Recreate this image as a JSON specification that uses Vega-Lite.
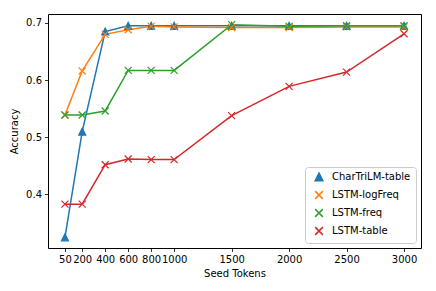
{
  "$schema": "https://vega.github.io/schema/vega-lite/v6.json",
  "autosize": {"type": "none"},
  "width": 373,
  "height": 234,
  "padding": {"left": 48, "top": 14, "right": 15, "bottom": 43},
  "background": "white",
  "config": {
    "font": "DejaVu Sans",
    "view": {"stroke": "#000000", "strokeWidth": 1},
    "axis": {
      "domain": false,
      "grid": false,
      "tickColor": "#000000",
      "tickSize": 3.5,
      "tickWidth": 0.8,
      "labelPadding": 3,
      "labelColor": "#000000",
      "labelFont": "DejaVu Sans",
      "labelFontSize": 10,
      "titleFont": "DejaVu Sans",
      "titleFontSize": 10,
      "titleFontWeight": "normal",
      "titleColor": "#000000"
    },
    "legend": {
      "labelFont": "DejaVu Sans",
      "labelFontSize": 10,
      "labelColor": "#000000"
    }
  },
  "data": {
    "values": [
      {"x": 50, "y": 0.325, "s": "CharTriLM-table"},
      {"x": 200, "y": 0.51, "s": "CharTriLM-table"},
      {"x": 400, "y": 0.685, "s": "CharTriLM-table"},
      {"x": 600, "y": 0.695, "s": "CharTriLM-table"},
      {"x": 800, "y": 0.695, "s": "CharTriLM-table"},
      {"x": 1000, "y": 0.695, "s": "CharTriLM-table"},
      {"x": 1500, "y": 0.695, "s": "CharTriLM-table"},
      {"x": 2000, "y": 0.695, "s": "CharTriLM-table"},
      {"x": 2500, "y": 0.695, "s": "CharTriLM-table"},
      {"x": 3000, "y": 0.695, "s": "CharTriLM-table"},
      {"x": 50, "y": 0.539, "s": "LSTM-logFreq"},
      {"x": 200, "y": 0.616, "s": "LSTM-logFreq"},
      {"x": 400, "y": 0.68, "s": "LSTM-logFreq"},
      {"x": 600, "y": 0.688, "s": "LSTM-logFreq"},
      {"x": 800, "y": 0.694, "s": "LSTM-logFreq"},
      {"x": 1000, "y": 0.693, "s": "LSTM-logFreq"},
      {"x": 1500, "y": 0.692, "s": "LSTM-logFreq"},
      {"x": 2000, "y": 0.692, "s": "LSTM-logFreq"},
      {"x": 2500, "y": 0.693, "s": "LSTM-logFreq"},
      {"x": 3000, "y": 0.693, "s": "LSTM-logFreq"},
      {"x": 50, "y": 0.539, "s": "LSTM-freq"},
      {"x": 200, "y": 0.539, "s": "LSTM-freq"},
      {"x": 400, "y": 0.546, "s": "LSTM-freq"},
      {"x": 600, "y": 0.617, "s": "LSTM-freq"},
      {"x": 800, "y": 0.617, "s": "LSTM-freq"},
      {"x": 1000, "y": 0.617, "s": "LSTM-freq"},
      {"x": 1500, "y": 0.697, "s": "LSTM-freq"},
      {"x": 2000, "y": 0.694, "s": "LSTM-freq"},
      {"x": 2500, "y": 0.695, "s": "LSTM-freq"},
      {"x": 3000, "y": 0.695, "s": "LSTM-freq"},
      {"x": 50, "y": 0.383, "s": "LSTM-table"},
      {"x": 200, "y": 0.383, "s": "LSTM-table"},
      {"x": 400, "y": 0.452, "s": "LSTM-table"},
      {"x": 600, "y": 0.462, "s": "LSTM-table"},
      {"x": 800, "y": 0.461, "s": "LSTM-table"},
      {"x": 1000, "y": 0.461, "s": "LSTM-table"},
      {"x": 1500, "y": 0.538, "s": "LSTM-table"},
      {"x": 2000, "y": 0.589, "s": "LSTM-table"},
      {"x": 2500, "y": 0.614, "s": "LSTM-table"},
      {"x": 3000, "y": 0.681, "s": "LSTM-table"}
    ]
  },
  "encoding": {
    "x": {
      "field": "x",
      "type": "quantitative",
      "title": "Seed Tokens",
      "scale": {"domain": [-97.5, 3147.5], "nice": false, "zero": false},
      "axis": {"values": [50, 200, 400, 600, 800, 1000, 1500, 2000, 2500, 3000], "format": "d", "labelFlush": false, "labelOverlap": false, "titlePadding": 4}
    },
    "y": {
      "field": "y",
      "type": "quantitative",
      "title": "Accuracy",
      "scale": {"domain": [0.3064, 0.7156], "nice": false, "zero": false},
      "axis": {"values": [0.4, 0.5, 0.6, 0.7], "format": ".1f", "titlePadding": 6}
    },
    "color": {
      "field": "s",
      "type": "nominal",
      "scale": {
        "domain": ["CharTriLM-table", "LSTM-logFreq", "LSTM-freq", "LSTM-table"],
        "range": ["#1f77b4", "#ff7f0e", "#2ca02c", "#d62728"]
      },
      "legend": {
        "title": null,
        "orient": "bottom-right",
        "offset": 5,
        "padding": 5,
        "rowPadding": 4,
        "symbolSize": 60,
        "symbolStrokeWidth": 1.5,
        "symbolOffset": 4,
        "labelOffset": 8,
        "strokeColor": "#cccccc",
        "fillColor": "rgba(255,255,255,0.8)",
        "cornerRadius": 3
      }
    }
  },
  "layer": [
    {
      "mark": {"type": "line", "strokeWidth": 1.5}
    },
    {
      "mark": {"type": "point", "filled": false, "opacity": 1, "strokeWidth": 1.2, "size": 49},
      "encoding": {
        "shape": {
          "field": "s",
          "type": "nominal",
          "scale": {
            "domain": ["CharTriLM-table", "LSTM-logFreq", "LSTM-freq", "LSTM-table"],
            "range": ["M0,-1L1,1L-1,1Z", "M-1,-1L1,1M-1,1L1,-1", "M-1,-1L1,1M-1,1L1,-1", "M-1,-1L1,1M-1,1L1,-1"]
          },
          "legend": null
        },
        "fill": {
          "field": "s",
          "type": "nominal",
          "scale": {
            "domain": ["CharTriLM-table", "LSTM-logFreq", "LSTM-freq", "LSTM-table"],
            "range": ["#1f77b4", "transparent", "transparent", "transparent"]
          },
          "legend": null
        }
      }
    }
  ]
}
